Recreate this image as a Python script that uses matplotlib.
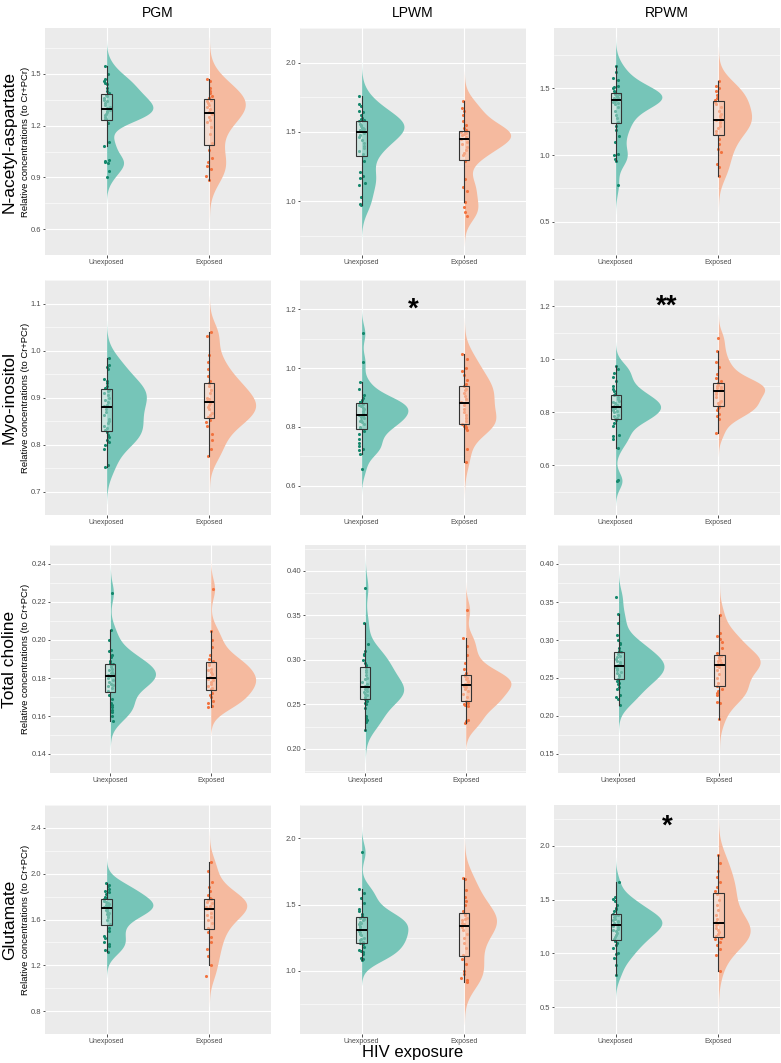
import numpy as np
import matplotlib.pyplot as plt
from matplotlib.colors import to_rgb

plt.rcParams['font.family'] = ['Liberation Sans', 'DejaVu Sans']

groups = ["Unexposed", "Exposed"]
regions = ["PGM", "LPWM", "RPWM"]
metabolites = ["N-acetyl-aspartate", "Myo-inositol", "Total choline", "Glutamate"]

# N-acetyl-aspartate
naa_pgm_unexp = [0.903, 0.939, 0.985, 0.99, 0.995, 1.00, 1.082, 1.104, 1.217,
                 1.236, 1.24, 1.25, 1.26, 1.27, 1.28, 1.285, 1.29, 1.295,
                 1.30, 1.31, 1.32, 1.33, 1.34, 1.35, 1.36, 1.37, 1.38,
                 1.39, 1.40, 1.42, 1.44, 1.45, 1.46, 1.47, 1.50, 1.547]
naa_pgm_exp = [0.885, 0.91, 0.95, 0.965, 0.99, 1.01, 1.06,
               1.10, 1.15, 1.19, 1.22, 1.235, 1.25, 1.27,
               1.28, 1.295, 1.31, 1.32, 1.33, 1.34, 1.35,
               1.36, 1.37, 1.39, 1.40, 1.42, 1.46, 1.47]
naa_lpwm_unexp = [0.97, 0.98, 1.03, 1.115, 1.13, 1.17, 1.18, 1.21, 1.29,
                  1.34, 1.36, 1.38, 1.40, 1.42, 1.44, 1.46, 1.48, 1.495,
                  1.505, 1.51, 1.52, 1.525, 1.53, 1.54, 1.55, 1.56, 1.575,
                  1.585, 1.59, 1.60, 1.62, 1.64, 1.65, 1.69, 1.70, 1.76]
naa_lpwm_exp = [0.89, 0.92, 0.96, 0.995, 1.07, 1.10, 1.16, 1.29,
                1.33, 1.35, 1.37, 1.39, 1.41, 1.43, 1.445,
                1.455, 1.465, 1.475, 1.485, 1.49, 1.50, 1.505,
                1.51, 1.53, 1.55, 1.58, 1.62, 1.65, 1.67, 1.725]
naa_rpwm_unexp = [0.777, 0.958, 0.97, 1.00, 1.01, 1.10, 1.14, 1.19, 1.22,
                  1.25, 1.28, 1.30, 1.33, 1.36, 1.38, 1.39, 1.40, 1.405,
                  1.415, 1.42, 1.425, 1.43, 1.435, 1.44, 1.45, 1.455, 1.46,
                  1.47, 1.48, 1.50, 1.51, 1.52, 1.56, 1.58, 1.62, 1.67]
naa_rpwm_exp = [0.84, 0.91, 0.935, 1.02, 1.045, 1.08, 1.12,
                1.16, 1.18, 1.20, 1.22, 1.24, 1.25, 1.26,
                1.27, 1.29, 1.31, 1.33, 1.36, 1.38, 1.40,
                1.41, 1.43, 1.45, 1.48, 1.50, 1.52, 1.552]

# Myo-inositol
mi_pgm_unexp = [0.753, 0.756, 0.79, 0.80, 0.805, 0.81, 0.815, 0.82, 0.826,
                0.83, 0.835, 0.84, 0.845, 0.85, 0.855, 0.862, 0.87, 0.876,
                0.882, 0.885, 0.89, 0.895, 0.90, 0.905, 0.91, 0.914, 0.917,
                0.92, 0.925, 0.93, 0.935, 0.94, 0.96, 0.965, 0.97, 0.985]
mi_pgm_exp = [0.775, 0.79, 0.81, 0.823, 0.84, 0.848, 0.853,
              0.858, 0.862, 0.868, 0.875, 0.88, 0.884, 0.888,
              0.892, 0.896, 0.90, 0.91, 0.915, 0.925, 0.93,
              0.935, 0.945, 0.96, 0.975, 0.99, 1.03, 1.039]
mi_lpwm_unexp = [0.657, 0.709, 0.72, 0.725, 0.735, 0.745, 0.76, 0.775, 0.785,
                 0.795, 0.80, 0.81, 0.815, 0.82, 0.825, 0.83, 0.835, 0.838,
                 0.842, 0.848, 0.855, 0.86, 0.865, 0.87, 0.873, 0.876, 0.879,
                 0.883, 0.886, 0.89, 0.90, 0.91, 0.93, 0.953, 1.022, 1.118]
mi_lpwm_exp = [0.682, 0.725, 0.79, 0.795, 0.80, 0.803, 0.806,
               0.81, 0.82, 0.83, 0.84, 0.85, 0.86, 0.875,
               0.885, 0.895, 0.905, 0.915, 0.925, 0.93, 0.938,
               0.945, 0.96, 0.975, 0.99, 1.00, 1.03, 1.047]
mi_rpwm_unexp = [0.54, 0.545, 0.664, 0.70, 0.71, 0.715, 0.75, 0.76, 0.77,
                 0.775, 0.78, 0.785, 0.79, 0.80, 0.805, 0.81, 0.815, 0.818,
                 0.822, 0.826, 0.83, 0.835, 0.84, 0.845, 0.85, 0.86, 0.865,
                 0.87, 0.88, 0.89, 0.90, 0.92, 0.935, 0.95, 0.965, 0.975]
mi_rpwm_exp = [0.724, 0.775, 0.785, 0.795, 0.81, 0.815, 0.82,
               0.828, 0.835, 0.84, 0.845, 0.86, 0.87, 0.877,
               0.883, 0.888, 0.892, 0.896, 0.90, 0.905, 0.91,
               0.92, 0.93, 0.945, 0.97, 0.99, 1.031, 1.081]

# Total choline
tcho_pgm_unexp = [0.1572, 0.160, 0.162, 0.163, 0.165, 0.166, 0.167, 0.169, 0.171,
                  0.173, 0.175, 0.176, 0.1765, 0.177, 0.178, 0.179, 0.180, 0.1808,
                  0.1814, 0.182, 0.1825, 0.183, 0.184, 0.185, 0.186, 0.1868, 0.1874,
                  0.188, 0.189, 0.191, 0.192, 0.194, 0.195, 0.200, 0.2052, 0.225]
tcho_pgm_exp = [0.165, 0.1655, 0.167, 0.168, 0.170, 0.171, 0.172,
                0.174, 0.175, 0.176, 0.177, 0.178, 0.179, 0.1795,
                0.1805, 0.182, 0.183, 0.184, 0.185, 0.187, 0.188,
                0.189, 0.190, 0.192, 0.1965, 0.200, 0.2049, 0.227]
tcho_lpwm_unexp = [0.2209, 0.230, 0.232, 0.235, 0.237, 0.246, 0.250, 0.252, 0.254,
                   0.256, 0.258, 0.260, 0.262, 0.264, 0.265, 0.267, 0.268, 0.269,
                   0.271, 0.273, 0.275, 0.278, 0.280, 0.283, 0.286, 0.289, 0.292,
                   0.294, 0.296, 0.300, 0.305, 0.307, 0.310, 0.318, 0.3416, 0.381]
tcho_lpwm_exp = [0.2293, 0.231, 0.232, 0.248, 0.249, 0.250, 0.251,
                 0.254, 0.258, 0.262, 0.265, 0.267, 0.269, 0.271,
                 0.273, 0.275, 0.276, 0.278, 0.280, 0.282, 0.283,
                 0.285, 0.290, 0.297, 0.305, 0.316, 0.324, 0.356]
tcho_rpwm_unexp = [0.214, 0.222, 0.225, 0.228, 0.235, 0.238, 0.242, 0.244, 0.246,
                   0.249, 0.252, 0.254, 0.256, 0.258, 0.260, 0.262, 0.263, 0.265,
                   0.267, 0.269, 0.271, 0.273, 0.275, 0.277, 0.279, 0.281, 0.284,
                   0.286, 0.290, 0.295, 0.296, 0.300, 0.307, 0.322, 0.3338, 0.356]
tcho_rpwm_exp = [0.1963, 0.217, 0.219, 0.228, 0.230, 0.233, 0.236,
                 0.240, 0.244, 0.250, 0.255, 0.260, 0.264, 0.266,
                 0.269, 0.270, 0.272, 0.274, 0.276, 0.278, 0.279,
                 0.283, 0.290, 0.297, 0.301, 0.305, 0.309, 0.3327]

# Glutamate
glu_pgm_unexp = [1.318, 1.33, 1.37, 1.39, 1.40, 1.44, 1.46, 1.50, 1.53,
                 1.56, 1.60, 1.62, 1.64, 1.65, 1.66, 1.67, 1.68, 1.695,
                 1.71, 1.715, 1.72, 1.73, 1.735, 1.74, 1.75, 1.76, 1.775,
                 1.79, 1.80, 1.82, 1.84, 1.85, 1.87, 1.89, 1.90, 1.916]
glu_pgm_exp = [1.11, 1.205, 1.28, 1.34, 1.40, 1.45, 1.49,
               1.53, 1.57, 1.60, 1.62, 1.64, 1.66, 1.69,
               1.70, 1.71, 1.72, 1.74, 1.75, 1.77, 1.775,
               1.79, 1.81, 1.85, 1.88, 1.93, 2.02, 2.103]
glu_lpwm_unexp = [1.086, 1.09, 1.10, 1.13, 1.14, 1.15, 1.16, 1.18, 1.20,
                  1.21, 1.22, 1.23, 1.24, 1.25, 1.27, 1.28, 1.29, 1.30,
                  1.315, 1.33, 1.34, 1.35, 1.36, 1.37, 1.38, 1.39, 1.40,
                  1.41, 1.43, 1.45, 1.47, 1.51, 1.55, 1.59, 1.618, 1.896]
glu_lpwm_exp = [0.917, 0.93, 0.95, 0.98, 1.00, 1.05, 1.09,
                1.12, 1.17, 1.21, 1.25, 1.28, 1.31, 1.33,
                1.35, 1.36, 1.38, 1.39, 1.40, 1.42, 1.43,
                1.45, 1.50, 1.53, 1.56, 1.61, 1.69, 1.699]
glu_rpwm_unexp = [0.80, 0.89, 0.96, 0.99, 1.00, 1.05, 1.08, 1.10, 1.115,
                  1.13, 1.15, 1.17, 1.19, 1.21, 1.22, 1.23, 1.245, 1.255,
                  1.27, 1.28, 1.29, 1.30, 1.31, 1.32, 1.335, 1.35, 1.36,
                  1.37, 1.39, 1.41, 1.42, 1.45, 1.49, 1.51, 1.52, 1.66]
glu_rpwm_exp = [0.838, 0.98, 1.04, 1.08, 1.11, 1.13, 1.145,
                1.16, 1.18, 1.20, 1.22, 1.24, 1.26, 1.275,
                1.29, 1.32, 1.36, 1.40, 1.45, 1.50, 1.55,
                1.58, 1.62, 1.66, 1.71, 1.77, 1.84, 1.91]

panels = [
    [(naa_pgm_unexp, naa_pgm_exp), (naa_lpwm_unexp, naa_lpwm_exp), (naa_rpwm_unexp, naa_rpwm_exp)],
    [(mi_pgm_unexp, mi_pgm_exp), (mi_lpwm_unexp, mi_lpwm_exp), (mi_rpwm_unexp, mi_rpwm_exp)],
    [(tcho_pgm_unexp, tcho_pgm_exp), (tcho_lpwm_unexp, tcho_lpwm_exp), (tcho_rpwm_unexp, tcho_rpwm_exp)],
    [(glu_pgm_unexp, glu_pgm_exp), (glu_lpwm_unexp, glu_lpwm_exp), (glu_rpwm_unexp, glu_rpwm_exp)],
]

yticks = [
    [["0.6", "0.9", "1.2", "1.5"], ["1.0", "1.5", "2.0"], ["0.5", "1.0", "1.5"]],
    [["0.7", "0.8", "0.9", "1.0", "1.1"], ["0.6", "0.8", "1.0", "1.2"], ["0.6", "0.8", "1.0", "1.2"]],
    [["0.14", "0.16", "0.18", "0.20", "0.22", "0.24"], ["0.20", "0.25", "0.30", "0.35", "0.40"],
     ["0.15", "0.20", "0.25", "0.30", "0.35", "0.40"]],
    [["0.8", "1.2", "1.6", "2.0", "2.4"], ["1.0", "1.5", "2.0"], ["0.5", "1.0", "1.5", "2.0"]],
]

# significance marks: (row, col, label, height as axes fraction)
stars = [(1, 1, "*", 0.875), (1, 2, "**", 0.885), (3, 2, "*", 0.905)]

violin_col = ["#76C5B8", "#F5BA9F"]
box_col = ["#B3DDD5", "#F8D2C0"]
point_col = ["#14876C", "#F2733F"]
bg = "#EBEBEB"


def nrd0(x):
    # R's default bandwidth
    sd = np.std(x, ddof=1)
    q75, q25 = np.percentile(x, [75, 25])
    return 0.9 * min(sd, (q75 - q25) / 1.34) * len(x) ** -0.2


def kde(x):
    x = np.asarray(x)
    bw = nrd0(x)
    grid = np.linspace(x.min() - 3 * bw, x.max() + 3 * bw, 512)
    z = (grid[:, None] - x[None, :]) / bw
    d = np.exp(-0.5 * z ** 2).sum(axis=1) / (len(x) * bw * np.sqrt(2 * np.pi))
    return grid, d


W, H = 781, 1063
# panel edges in pixels, each small plot has its own left edge
left_px = [[45, 300, 554], [45, 300, 554], [50, 305, 558], [45, 300, 554]]
right_px = [271, 526, 780]
row_px = [(28, 255), (280, 515), (545, 773), (805, 1034)]

fig = plt.figure(figsize=(W / 100, H / 100), dpi=100)
rng = np.random.default_rng(7)
axes = {}

for r, row in enumerate(panels):
    for c, (unexp, exp) in enumerate(row):
        x0, x1 = left_px[r][c], right_px[c]
        y0, y1 = row_px[r]
        ax = fig.add_axes([x0 / W, 1 - y1 / H, (x1 - x0) / W, (y1 - y0) / H])
        axes[r, c] = ax
        ax.set_facecolor(bg)
        for s in ax.spines.values():
            s.set_visible(False)

        dens = [kde(g) for g in (unexp, exp)]
        dmax = max(d.max() for _, d in dens)
        for i, (grid, d) in enumerate(dens):
            pos = i + 1
            ax.fill_betweenx(grid, pos, pos + 0.45 * d / dmax, color=violin_col[i], lw=0, zorder=2)

        for i, g in enumerate((unexp, exp)):
            pos = i + 1
            jx = pos + rng.uniform(-0.03, 0.03, len(g))
            ax.scatter(jx, g, s=5, color=point_col[i], lw=0, zorder=3)

        bp = ax.boxplot([unexp, exp], positions=[1, 2], widths=0.1, whis=1.5,
                        showfliers=False, showcaps=False, patch_artist=True,
                        manage_ticks=False, zorder=4)
        for i, b in enumerate(bp["boxes"]):
            b.set_facecolor((*to_rgb(box_col[i]), 0.55))
            b.set_edgecolor("#333333")
            b.set_linewidth(0.8)
        for w in bp["whiskers"]:
            w.set_color("#333333")
            w.set_linewidth(0.8)
        for m in bp["medians"]:
            m.set_color("black")
            m.set_linewidth(1.4)

        ax.set_xlim(0.4, 2.6)
        ax.margins(y=0.05)
        ax.autoscale(axis="y")
        tl = yticks[r][c]
        tv = [float(t) for t in tl]
        ax.set_yticks(tv)
        ax.set_yticklabels(tl)
        step = tv[1] - tv[0]
        ax.set_yticks(np.arange(tv[0] - step / 2, tv[-1] + step, step), minor=True)
        ax.set_xticks([1, 2])
        ax.set_xticklabels(groups)
        ax.tick_params(axis="y", which="minor", length=0)
        ax.tick_params(axis="both", which="major", length=1.8, width=0.6, color="#333333",
                       labelcolor="#4D4D4D", pad=1)
        ax.tick_params(axis="y", labelsize=5.5)
        ax.tick_params(axis="x", labelsize=5)
        ax.grid(True, which="major", color="white", lw=0.8, zorder=0)
        ax.grid(True, which="minor", axis="y", color="white", lw=0.4, zorder=0)
        ax.set_axisbelow(True)

        if r == 0:
            fig.text((x0 + x1) / 2 / W, 1 - 13 / H, regions[c], ha="center", va="center", fontsize=10)
        if c == 0:
            yc = 1 - (y0 + y1) / 2 / H
            fig.text(9.5 / W, yc, metabolites[r], rotation=90, ha="center", va="center", fontsize=12.5)
            fig.text(25.5 / W, yc, "Relative concentrations (to Cr+PCr)", rotation=90,
                     ha="center", va="center", fontsize=6.8)

for r, c, lab, yf in stars:
    axes[r, c].text(0.5, yf, lab, transform=axes[r, c].transAxes, ha="center", va="center",
                    fontsize=20, fontweight="bold", zorder=6)

fig.text(413 / W, 1 - 1052 / H, "HIV exposure", ha="center", va="center", fontsize=12)

fig.savefig("out.png", dpi=100)
